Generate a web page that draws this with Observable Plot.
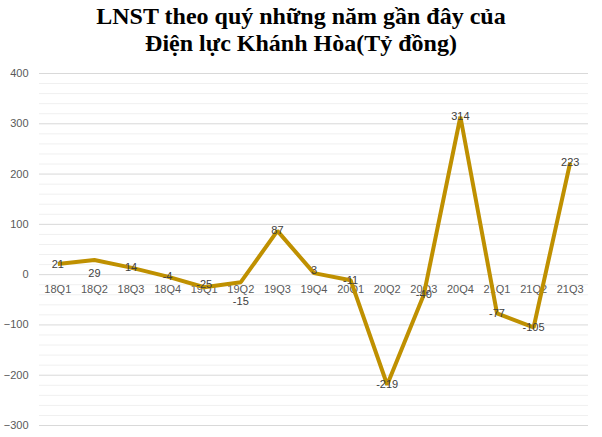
<!DOCTYPE html>
<html>
<head>
<meta charset="utf-8">
<script src="https://cdn.jsdelivr.net/npm/d3@7"></script>
<script src="https://cdn.jsdelivr.net/npm/@observablehq/plot@0.6"></script>
<style>
  body { margin: 0; background: #fff; }
  #title { height: 60px; box-sizing: border-box; padding-top: 3px; text-align: center;
    font-family: "Liberation Serif", "Times New Roman", serif; font-weight: bold; font-size: 24px; line-height: 27px; color: #000; }
</style>
</head>
<body>
<div id="title">LNST theo quý những năm gần đây của<br>Điện lực Khánh Hòa(Tỷ đồng)</div>
<div id="chart"></div>
<script>
const quarters = ["18Q1","18Q2","18Q3","18Q4","19Q1","19Q2","19Q3","19Q4","20Q1","20Q2","20Q3","20Q4","21Q1","21Q2","21Q3"];
const profit = [21, 29, 14, -4, -25, -15, 87, 3, -11, -219, -40, 314, -77, -105, 223];
const yTicks = [-300, -200, -100, 0, 100, 200, 300, 400];
const yMinor = [-280,-260,-240,-220,-180,-160,-140,-120,-80,-60,-40,-20,20,40,60,80,120,140,160,180,220,240,260,280,320,340,360,380];

const data = quarters.map((q, i) => ({q, v: profit[i]}));
// label vertical nudges in px (rendering only)
const nudge = {"18Q1": -4, "18Q2": 9, "18Q3": -4, "19Q1": -7, "19Q2": 15, "19Q4": -7};

const chart = Plot.plot({
  width: 602,
  height: 377,
  marginTop: 13,
  marginBottom: 12,
  marginLeft: 39,
  marginRight: 14,
  x: {type: "band", domain: quarters, padding: 0, round: false, axis: null},
  y: {domain: [-300, 400], axis: null},
  style: {fontFamily: "'Liberation Sans', Arial, sans-serif", background: "#fff"},
  marks: [
    Plot.ruleY(yMinor, {stroke: "#f0f0f0", strokeWidth: 1}),
    Plot.ruleY(yTicks, {stroke: "#d9d9d9", strokeWidth: 1}),
    Plot.axisY(yTicks, {tickSize: 0, tickPadding: 11, fontSize: 11, fill: "#595959", color: "#595959", label: null}),
    Plot.text(quarters, {x: d => d, y: () => 0, dy: 15, text: d => d, fontSize: 11, fill: "#595959"}),
    Plot.line(data, {x: "q", y: "v", stroke: "#BF9000", strokeWidth: 4, strokeLinejoin: "miter", strokeLinecap: "butt"}),
    Plot.text(data, {x: "q", y: "v", text: d => String(d.v), fontSize: 11, fill: "#404040"})
  ]
});
document.getElementById("chart").appendChild(chart);
const labelGroups = chart.querySelectorAll("g[aria-label='text']");
const dataLabels = labelGroups[labelGroups.length - 1];
dataLabels.querySelectorAll("text").forEach((t, i) => {
  const dy = nudge[quarters[i]] || 0;
  if (dy) t.setAttribute("dy", (dy + 4) + "px");
});
</script>
</body>
</html>
